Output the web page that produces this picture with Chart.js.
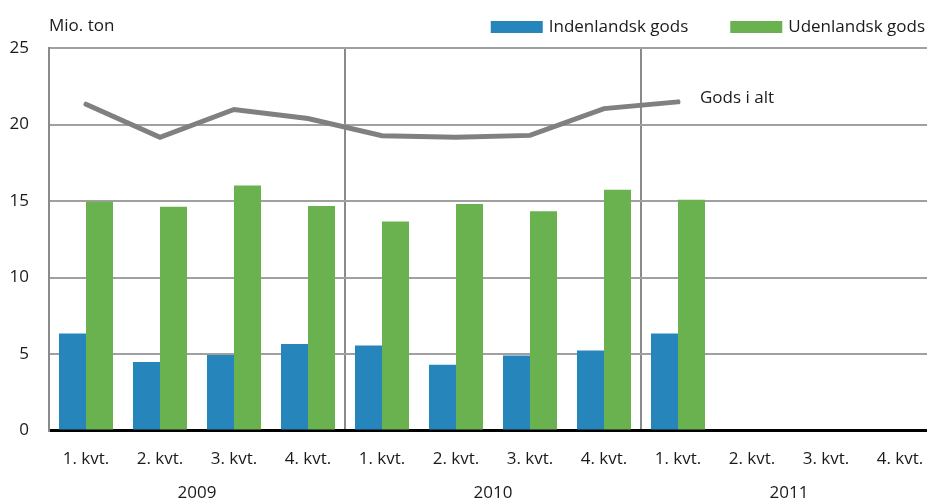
<!DOCTYPE html>
<html lang="da">
<head>
<meta charset="utf-8">
<title>Godstransport</title>
<script src="https://cdn.jsdelivr.net/npm/chart.js@4.4.1/dist/chart.umd.min.js"></script>
<style>
    html, body { margin: 0; padding: 0; background: #fff; overflow: hidden; }
    #clip { width: 927px; height: 501px; overflow: hidden; }
    #wrap { position: relative; width: 947px; height: 501px; }
</style>
</head>
<body>
<div id="clip"><div id="wrap"><canvas id="freightChart"></canvas></div></div>
<script>
// ── Data ─────────────────────────────────────────────────

const quarters = [
    '1. kvt.', '2. kvt.', '3. kvt.', '4. kvt.',
    '1. kvt.', '2. kvt.', '3. kvt.', '4. kvt.',
    '1. kvt.', '2. kvt.', '3. kvt.', '4. kvt.'
];
const years = ['2009', '2010', '2011'];

const domestic = [6.35, 4.48, 4.94, 5.66, 5.56, 4.31, 4.90, 5.23, 6.34, null, null, null];
const foreign  = [14.96, 14.63, 16.01, 14.68, 13.67, 14.81, 14.33, 15.73, 15.09, null, null, null];
const total    = [21.33, 19.16, 20.98, 20.39, 19.27, 19.17, 19.29, 21.04, 21.48, null, null, null];

const unitLabel = 'Mio. ton';
const totalLabel = 'Gods i alt';

// ── Styling ──────────────────────────────────────────────

const TEXT = '#1a1a1a';
const GRID = '#a0a0a0';
const FONT = '"Open Sans", "Noto Sans", sans-serif';
const VISIBLE_WIDTH = 927;

Chart.defaults.font.family = FONT;
Chart.defaults.font.size = 17;
Chart.defaults.color = TEXT;

// ── Plugins ──────────────────────────────────────────────

// unit title top-left + bar legend top-right
const headerPlugin = {
    id: 'header',
    afterDraw(chart) {
        const { ctx, chartArea } = chart;
        ctx.save();
        ctx.font = `17px ${FONT}`;
        ctx.fillStyle = TEXT;
        ctx.textBaseline = 'middle';
        ctx.textAlign = 'left';
        ctx.fillText(unitLabel, chartArea.left, 26);

        const items = chart.data.datasets.filter(d => d.type !== 'line');
        let x = VISIBLE_WIDTH - 2;
        for (let i = items.length - 1; i >= 0; i--) {
            const w = ctx.measureText(items[i].label).width;
            const textX = x - w;
            const boxX = textX - 6 - 52;
            ctx.fillStyle = items[i].backgroundColor;
            ctx.fillRect(boxX, 21, 52, 12);
            ctx.fillStyle = TEXT;
            ctx.fillText(items[i].label, textX, 27);
            x = boxX - 42;
        }
        ctx.restore();
    }
};

// year under each group of four quarters
const yearPlugin = {
    id: 'years',
    afterDraw(chart) {
        const { ctx, chartArea } = chart;
        const xs = chart.scales.x;
        ctx.save();
        ctx.font = `17px ${FONT}`;
        ctx.fillStyle = TEXT;
        ctx.textAlign = 'center';
        ctx.textBaseline = 'middle';
        years.forEach((y, g) => {
            const mid = (xs.getPixelForValue(g * 4 + 1) + xs.getPixelForValue(g * 4 + 2)) / 2;
            ctx.fillText(y, mid, chartArea.bottom + 63);
        });
        ctx.restore();
    }
};

// label at the end of the total line
const lineLabelPlugin = {
    id: 'lineLabel',
    afterDatasetsDraw(chart) {
        const idx = chart.data.datasets.findIndex(d => d.type === 'line');
        const meta = chart.getDatasetMeta(idx);
        let last = -1;
        total.forEach((v, i) => { if (v !== null) last = i; });
        const pt = meta.data[last];
        const { ctx } = chart;
        ctx.save();
        ctx.font = `17px ${FONT}`;
        ctx.fillStyle = TEXT;
        ctx.textAlign = 'left';
        ctx.textBaseline = 'middle';
        ctx.fillText(totalLabel, pt.x + 22, pt.y - 4);
        ctx.restore();
    }
};

// ── Chart ────────────────────────────────────────────────

const ctx = document.getElementById('freightChart').getContext('2d');

new Chart(ctx, {
    type: 'bar',
    data: {
        labels: quarters,
        datasets: [
            {
                type: 'line',
                label: totalLabel,
                data: total,
                borderColor: '#808080',
                borderWidth: 5,
                borderCapStyle: 'round',
                pointRadius: 0,
                tension: 0,
                order: 0
            },
            {
                label: 'Indenlandsk gods',
                data: domestic,
                backgroundColor: '#2686bb',
                categoryPercentage: 0.73,
                barPercentage: 1.0,
                order: 1
            },
            {
                label: 'Udenlandsk gods',
                data: foreign,
                backgroundColor: '#6ab150',
                categoryPercentage: 0.73,
                barPercentage: 1.0,
                order: 1
            }
        ]
    },
    options: {
        responsive: true,
        maintainAspectRatio: false,
        animation: false,
        layout: { padding: { top: 48, left: 10, right: 10, bottom: 14 } },
        plugins: {
            legend: { display: false },
            tooltip: { enabled: false }
        },
        scales: {
            x: {
                grid: {
                    offset: true,
                    drawTicks: false,
                    lineWidth: 2,
                    color: c => (c.index === 4 || c.index === 8) ? '#8a8a8a' : 'rgba(0,0,0,0)'
                },
                border: { color: '#000', width: 3 },
                ticks: { padding: 18, color: TEXT, maxRotation: 0, autoSkip: false }
            },
            y: {
                min: 0,
                max: 25,
                afterFit: s => { s.width = 39; },
                grid: { drawTicks: false, lineWidth: 2, color: GRID },
                border: { color: '#8a8a8a', width: 2 },
                ticks: { stepSize: 5, padding: 20, color: TEXT }
            }
        }
    },
    plugins: [headerPlugin, yearPlugin, lineLabelPlugin]
});
</script>
</body>
</html>
